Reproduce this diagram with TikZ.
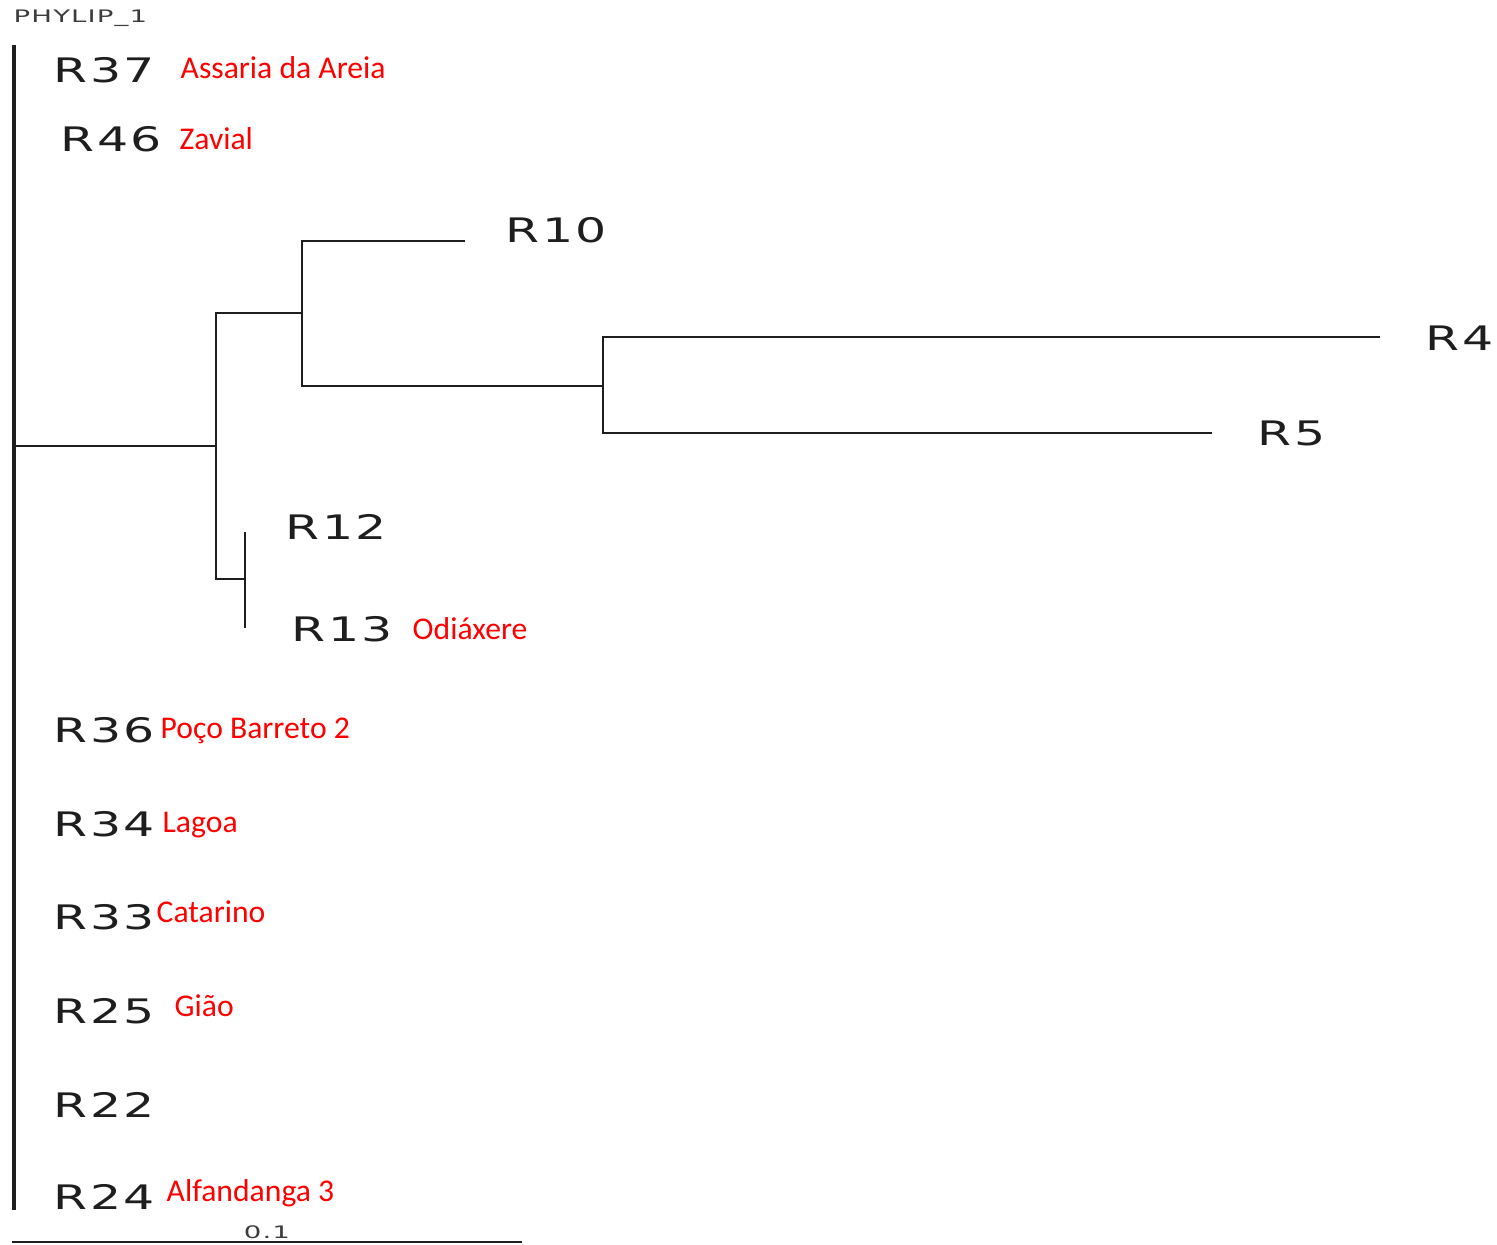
\documentclass[tikz,border=0pt]{standalone}
\usepackage{fontspec}
\usepackage{graphicx}
\usepackage{xcolor}
\usepackage{tikz}
\newfontfamily\leaffont[LetterSpace=5]{DejaVu Sans}
\newfontfamily\tagfont[LetterSpace=4]{DejaVu Sans}
\newfontfamily\sitefont{Carlito}
\definecolor{inkc}{HTML}{1E1E1E}
\definecolor{sitec}{HTML}{FF0000}
\definecolor{faintc}{HTML}{3C3C3C}
% wide lettering for the tree labels
\newcommand\leafname[1]{\scalebox{1.45}[1]{#1}}
\newcommand\tagname[1]{\scalebox{1.6}[1]{#1}}
\tikzset{
  branch/.style={line width=0.7pt,inkc},
  leaf/.style={anchor=base west,inner sep=0pt,text=inkc,font=\leaffont\fontsize{9.6}{11}\selectfont},
  site/.style={anchor=base west,inner sep=0pt,text=sitec,font=\sitefont\fontsize{9}{11}\selectfont},
  tag/.style={inner sep=0pt,text=faintc,font=\tagfont\fontsize{4.9}{6}\selectfont}
}

\begin{document}
\begin{tikzpicture}[x=0.01cm,y=-0.01cm]
\useasboundingbox (0,0) rectangle (1497,1244);
\node[tag,anchor=west] (title) at (13,18) {\tagname{PHYLIP\_1}};
% internal nodes and branch tips
\coordinate (top) at (14,45);
\coordinate (bot) at (14,1210);
\coordinate (root) at (14,446);
\coordinate (n1) at (216,446);
\coordinate (n2) at (302,313);
\coordinate (n3) at (603,386);
\coordinate (n4) at (245,579);
\coordinate (t10) at (465,241);
\coordinate (t4) at (1380,337);
\coordinate (t5) at (1212,433);
\coordinate (t12) at (245,532);
\coordinate (t13) at (245,628);
\draw[branch,line width=0.9pt] (top) -- (bot);
\draw[branch] (root) -- (n1);
\draw[branch] (n1) |- (n2);
\draw[branch] (n1) |- (n4);
\draw[branch] (n2) |- (t10);
\draw[branch] (n2) |- (n3);
\draw[branch] (n3) |- (t4);
\draw[branch] (n3) |- (t5);
\draw[branch] (n4) -- (t12);
\draw[branch] (n4) -- (t13);
% leaf names
\node[leaf] (r37) at (53,82) {\leafname{R37}};
\node[leaf] (r46) at (60,151) {\leafname{R46}};
\node[leaf] (r10) at (505,242) {\leafname{R10}};
\node[leaf] (r4) at (1425,350) {\leafname{R4}};
\node[leaf] (r5) at (1257,445) {\leafname{R5}};
\node[leaf] (r12) at (285,539) {\leafname{R12}};
\node[leaf] (r13) at (291,641) {\leafname{R13}};
\node[leaf] (r36) at (53,742) {\leafname{R36}};
\node[leaf] (r34) at (53,836) {\leafname{R34}};
\node[leaf] (r33) at (53,929) {\leafname{R33}};
\node[leaf] (r25) at (53,1023) {\leafname{R25}};
\node[leaf] (r22) at (53,1117) {\leafname{R22}};
\node[leaf] (r24) at (53,1209) {\leafname{R24}};
% sampling sites
\node[site] (s37) at (180,78) {Assaria da Areia};
\node[site] (s46) at (179,149) {Zavial};
\node[site] (s13) at (412,639) {Odiáxere};
\node[site] (s36) at (160,738) {Poço Barreto 2};
\node[site] (s34) at (162,832) {Lagoa};
\node[site] (s33) at (156,922) {Catarino};
\node[site] (s25) at (174,1016) {Gião};
\node[site] (s24) at (166,1201) {Alfandanga 3};
% scale bar
\coordinate (sb0) at (12,1242);
\coordinate (sb1) at (522,1242);
\draw[line width=0.5pt,inkc] (sb0) -- (sb1);
\node[tag,anchor=center] (sbl) at (267,1232) {\tagname{0.1}};
\end{tikzpicture}
\end{document}
